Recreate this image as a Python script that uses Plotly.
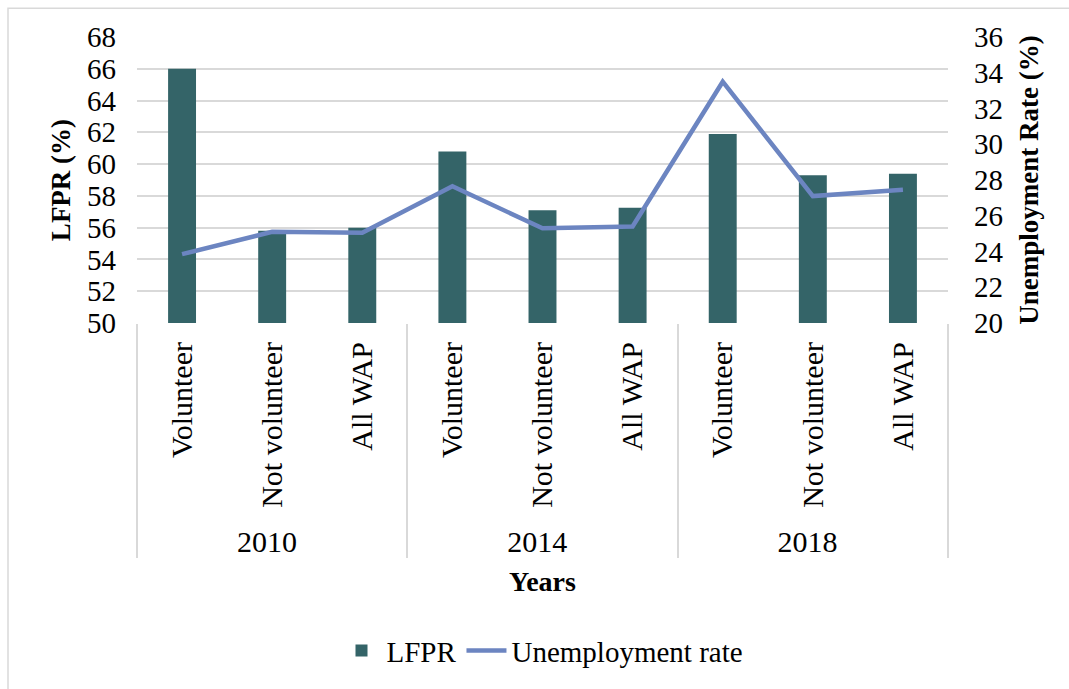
import plotly.graph_objects as go

years = ["2010", "2010", "2010", "2014", "2014", "2014", "2018", "2018", "2018"]
groups = ["Volunteer", "Not volunteer", "All WAP"] * 3
lfpr = [66.0, 55.8, 56.0, 60.8, 57.1, 57.25, 61.9, 59.3, 59.4]
unemp = [23.85, 25.1, 25.05, 27.65, 25.3, 25.4, 33.5, 27.1, 27.45]

FONT = "Liberation Serif, Times New Roman, serif"
BAR_C = "#346468"
LINE_C = "#6C85C1"
GRID_C = "#D9D9D9"

fig = go.Figure()
fig.add_trace(go.Bar(x=[years, groups], y=lfpr, name="LFPR",
                     marker=dict(color=BAR_C, line=dict(width=0)), yaxis="y"))
fig.add_trace(go.Scatter(x=[years, groups], y=unemp, name="Unemployment rate",
                         mode="lines", line=dict(color=LINE_C, width=4.5), yaxis="y2"))

fig.update_layout(
    width=1069, height=689,
    margin=dict(l=137, r=121, t=37, b=364),
    paper_bgcolor="white", plot_bgcolor="white",
    font=dict(family=FONT, size=29, color="black"),
    bargap=0.69,
    showlegend=True,
    legend=dict(orientation="h", x=0.5, xanchor="center", y=-1.146, yanchor="middle",
                font=dict(family=FONT, size=29), itemwidth=40, traceorder="normal"),
    xaxis=dict(type="multicategory", tickangle=-90, showgrid=False,
               showdividers=True, dividercolor=GRID_C, dividerwidth=1.5,
               ticks="", showline=False, ticklabelstandoff=12,
               tickfont=dict(size=30),
               title=dict(text="<b>Years</b>", font=dict(size=28), standoff=14)),
    yaxis=dict(range=[50, 68], dtick=2, showgrid=True, gridcolor=GRID_C, gridwidth=1.5,
               zeroline=False, showline=False, ticks="", tickfont=dict(size=29),
               ticklabelstandoff=20,
               title=dict(text="<b>LFPR (%)</b>", font=dict(size=27), standoff=8)),
    yaxis2=dict(range=[20, 36], dtick=2, overlaying="y", side="right", showgrid=False,
                zeroline=False, showline=False, ticks="", tickfont=dict(size=29),
                ticklabelstandoff=25,
                title=dict(text="<b>Unemployment Rate (%)</b>", font=dict(size=27), standoff=16)),
    shapes=[dict(type="rect", xref="paper", yref="paper",
                 x0=(8 - 137) / 811, x1=(1080 - 137) / 811,
                 y0=(325 - 700) / 288, y1=(325 - 8) / 288,
                 line=dict(color=GRID_C, width=1.5), fillcolor="rgba(0,0,0,0)", layer="below")],
)

fig.write_html("out.html")
